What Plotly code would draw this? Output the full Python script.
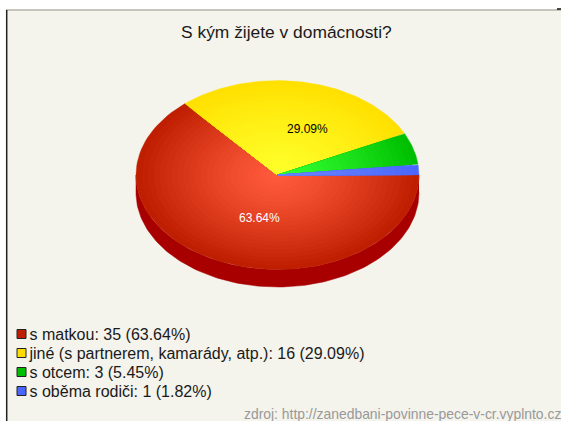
import numpy as np
import plotly.graph_objects as go

title = 'S kým žijete v domácnosti?'
source = 'zdroj: http://zanedbani-povinne-pece-v-cr.vyplnto.cz'

categories = ['s matkou', 'jiné (s partnerem, kamarády, atp.)', 's otcem', 's oběma rodiči']
values = [35, 16, 3, 1]

# colours per slice: centre of the gradient, rim of the gradient, legend swatch
color_centre = ['#ff5a3c', '#ffff2a', '#33ff33', '#6a85ff']
color_rim = ['#bf1e00', '#ffe000', '#00bf00', '#4a66ff']
color_swatch = ['#bf1e00', '#ffdc00', '#00bf00', '#4a66ff']
color_side = '#a80000'
color_panel = '#f4f3ec'
font_name = 'Liberation Sans'

# pie geometry in page pixels
cx, cy = 277.5, 175
rx, ry = 141.5, 94.5
depth = 17.5
steps = 24


# ----------------------------------------------
def mix(c1, c2, t):
    a = [int(c1[i:i + 2], 16) for i in (1, 3, 5)]
    b = [int(c2[i:i + 2], 16) for i in (1, 3, 5)]
    return 'rgb(%d,%d,%d)' % tuple(round(p + (q - p) * t) for p, q in zip(a, b))


# ----------------------------------------------
def wedge(a_start, a_end, scale):
    t = np.radians(np.linspace(a_start, a_end, 90))
    x = np.concatenate([[cx], cx + scale * rx * np.cos(t), [cx]])
    y = np.concatenate([[cy], cy + scale * ry * np.sin(t), [cy]])
    return x, y


fig = go.Figure()

# side wall of the pie
t = np.radians(np.linspace(0, 180, 120))
side_x = np.concatenate([cx + rx * np.cos(t), (cx + rx * np.cos(t))[::-1]])
side_y = np.concatenate([cy + depth + ry * np.sin(t), (cy + ry * np.sin(t))[::-1]])
fig.add_trace(go.Scatter(x=side_x, y=side_y, mode='lines', fill='toself',
                         fillcolor=color_side, line=dict(color=color_side, width=0.5)))

# slices run clockwise from 3 o'clock, painted rim first so the centre ends up light
total = sum(values)
start = 0
mids = []
for i, v in enumerate(values):
    end = start + v / total * 360
    mids.append((start + end) / 2)
    for k in range(steps):
        scale = 1 - k / steps
        col = mix(color_centre[i], color_rim[i], scale ** 1.3)
        x, y = wedge(start, end, scale)
        fig.add_trace(go.Scatter(x=x, y=y, mode='lines', fill='toself', fillcolor=col,
                                 line=dict(color=col, width=0.3)))
    start = end

# percentage labels on the two big slices, nudged right like the original renderer does
for i, col, dx in [(0, '#ffffff', 11), (1, '#000000', 16)]:
    m = np.radians(mids[i])
    fig.add_annotation(x=cx + 0.5 * rx * np.cos(m) + dx, y=cy + 0.5 * ry * np.sin(m),
                       text='%.2f%%' % (values[i] / total * 100), showarrow=False,
                       font=dict(family=font_name, size=12, color=col))

# legend: swatches and their texts as separate traces, the gap is wider than plotly's own
legend_y = np.array([334, 353, 372, 391])
legend_text = ['%s: %d (%.2f%%)' % (c, v, v / total * 100) for c, v in zip(categories, values)]
fig.add_trace(go.Scatter(x=[21.5] * 4, y=legend_y, mode='markers',
                         marker=dict(symbol='square', size=9, color=color_swatch,
                                     line=dict(color='#222222', width=1))))
fig.add_trace(go.Scatter(x=[29.5] * 4, y=legend_y + 1.5, mode='text', text=legend_text,
                         textposition='middle right',
                         textfont=dict(family=font_name, size=16, color='#1a1a1a')))

fig.update_layout(
    width=561, height=421,
    margin=dict(l=0, r=0, t=0, b=0),
    paper_bgcolor='white',
    plot_bgcolor='white',
    showlegend=False,
    hovermode=False,
    xaxis=dict(range=[0, 561], visible=False, fixedrange=True),
    yaxis=dict(range=[421, 0], visible=False, fixedrange=True),
    shapes=[
        dict(type='rect', layer='below', x0=6, x1=561, y0=10, y1=421,
             fillcolor=color_panel, line_width=0),
        dict(type='line', layer='below', x0=6, x1=561, y0=10, y1=10,
             line=dict(color='#b5b4aa', width=1.5)),
        dict(type='line', layer='below', x0=6.7, x1=6.7, y0=10, y1=421,
             line=dict(color='#222222', width=1.5)),
        dict(type='line', layer='below', x0=557, x1=561, y0=9, y1=9,
             line=dict(color='#111111', width=1.5)),
    ],
    annotations=list(fig.layout.annotations) + [
        dict(x=286.5, y=32, text=title, showarrow=False,
             font=dict(family=font_name, size=17.4, color='#1a1a1a')),
        dict(x=561, y=414, xanchor='right', xshift=2, text=source, showarrow=False,
             font=dict(family=font_name, size=13.9, color='#999999')),
    ],
)

fig.write_html("out.html", config=dict(displayModeBar=False),
               post_script="document.body.style.margin='0';document.body.style.overflow='hidden';")
